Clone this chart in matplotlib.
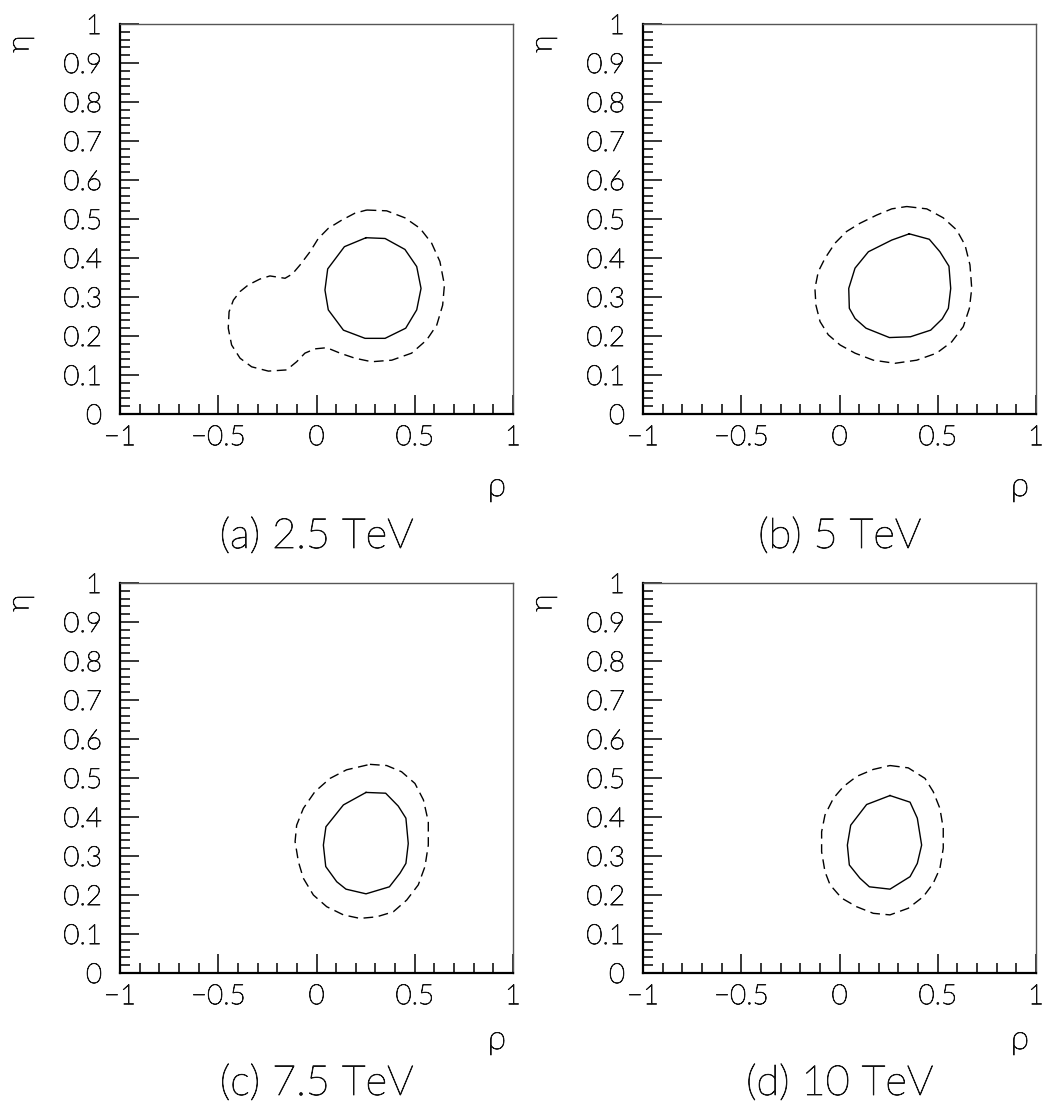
import matplotlib
matplotlib.use('Agg')
import matplotlib.pyplot as plt
import matplotlib.patheffects as pe
from matplotlib.ticker import MultipleLocator, FuncFormatter

plt.rcParams['font.family'] = ['Lato', 'DejaVu Sans']

# ---- contour outlines (rho, eta)
# (a) 2.5 TeV
a_in_rho = [0.252, 0.349, 0.450, 0.510, 0.532, 0.510, 0.454, 0.349, 0.247, 0.137, 0.060, 0.043, 0.057, 0.142]
a_in_eta = [0.452, 0.450, 0.422, 0.378, 0.322, 0.267, 0.220, 0.194, 0.194, 0.215, 0.267, 0.318, 0.372, 0.429]
a_out_rho = [0.255, 0.357, 0.450, 0.527, 0.586, 0.628, 0.651, 0.642, 0.612, 0.561, 0.484, 0.383, 0.281, 0.196,
             0.120, 0.052, -0.008, -0.059, -0.101, -0.152, -0.245, -0.330, -0.389, -0.432, -0.449, -0.445,
             -0.423, -0.389, -0.347, -0.288, -0.237, -0.160, -0.123, -0.084, -0.033, 0.009, 0.060, 0.128, 0.196]
a_out_eta = [0.523, 0.521, 0.503, 0.476, 0.438, 0.391, 0.331, 0.279, 0.228, 0.190, 0.156, 0.138, 0.134, 0.143,
             0.156, 0.170, 0.167, 0.156, 0.134, 0.113, 0.110, 0.121, 0.143, 0.177, 0.220, 0.262,
             0.292, 0.314, 0.331, 0.346, 0.354, 0.348, 0.359, 0.382, 0.416, 0.450, 0.476, 0.497, 0.515]
# (b) 5 TeV
b_in_rho = [0.355, 0.457, 0.511, 0.557, 0.566, 0.554, 0.523, 0.464, 0.361, 0.254, 0.135, 0.079, 0.050, 0.047, 0.079, 0.147, 0.266]
b_in_eta = [0.462, 0.448, 0.416, 0.379, 0.322, 0.271, 0.244, 0.215, 0.198, 0.196, 0.220, 0.245, 0.271, 0.322, 0.374, 0.416, 0.446]
b_out_rho = [0.342, 0.444, 0.528, 0.596, 0.639, 0.664, 0.673, 0.661, 0.630, 0.571, 0.494, 0.393, 0.282, 0.172,
             0.079, 0.003, -0.057, -0.099, -0.120, -0.125, -0.108, -0.074, -0.023, 0.036, 0.104, 0.189, 0.266]
b_out_eta = [0.532, 0.526, 0.503, 0.472, 0.433, 0.382, 0.322, 0.271, 0.224, 0.185, 0.156, 0.138, 0.130, 0.138,
             0.156, 0.177, 0.203, 0.237, 0.279, 0.322, 0.365, 0.399, 0.438, 0.468, 0.489, 0.510, 0.526]
# (c) 7.5 TeV
c_in_rho = [0.252, 0.352, 0.416, 0.455, 0.467, 0.455, 0.425, 0.371, 0.252, 0.150, 0.103, 0.047, 0.035, 0.048, 0.137]
c_in_eta = [0.463, 0.461, 0.428, 0.397, 0.332, 0.281, 0.256, 0.221, 0.203, 0.215, 0.234, 0.273, 0.328, 0.375, 0.431]
c_out_rho = [0.272, 0.357, 0.433, 0.501, 0.544, 0.569, 0.569, 0.552, 0.518, 0.459, 0.391, 0.306, 0.221, 0.137,
             0.052, -0.016, -0.067, -0.092, -0.109, -0.101, -0.067, -0.008, 0.069, 0.153]
c_out_eta = [0.535, 0.532, 0.516, 0.486, 0.444, 0.388, 0.328, 0.273, 0.226, 0.187, 0.157, 0.144, 0.140, 0.149,
             0.170, 0.200, 0.243, 0.285, 0.337, 0.379, 0.422, 0.465, 0.499, 0.521]
# (d) 10 TeV
d_in_rho = [0.257, 0.359, 0.396, 0.418, 0.396, 0.359, 0.257, 0.152, 0.104, 0.050, 0.040, 0.057, 0.138]
d_in_eta = [0.455, 0.438, 0.397, 0.328, 0.281, 0.247, 0.215, 0.221, 0.243, 0.277, 0.328, 0.379, 0.432]
d_out_rho = [0.257, 0.350, 0.435, 0.477, 0.511, 0.528, 0.528, 0.511, 0.477, 0.427, 0.350, 0.257, 0.172, 0.087,
             0.011, -0.048, -0.074, -0.091, -0.091, -0.074, -0.031, 0.020, 0.087, 0.172]
d_out_eta = [0.532, 0.526, 0.499, 0.465, 0.422, 0.371, 0.320, 0.268, 0.230, 0.196, 0.166, 0.149, 0.153, 0.170,
             0.192, 0.226, 0.260, 0.311, 0.362, 0.405, 0.448, 0.478, 0.504, 0.522]

captions = ['(a) 2.5 TeV', '(b) 5 TeV', '(c) 7.5 TeV', '(d) 10 TeV']
panels = [(a_in_rho, a_in_eta, a_out_rho, a_out_eta),
          (b_in_rho, b_in_eta, b_out_rho, b_out_eta),
          (c_in_rho, c_in_eta, c_out_rho, c_out_eta),
          (d_in_rho, d_in_eta, d_out_rho, d_out_eta)]

W, H = 1045, 1103
fig = plt.figure(figsize=(W / 100, H / 100), dpi=100)

# axes boxes in pixels: left, top, right, bottom
boxes = [(120, 24, 513, 414), (643, 24, 1036, 414),
         (120, 583, 513, 973), (643, 583, 1036, 973)]
# offsets below the axis for the rho title and the caption (bottom row is cropped tighter)
rho_off = [73, 73, 67, 67]
cap_off = [123, 123, 111, 111]

# thin text, darkened a little with a stroke
thin = [pe.withStroke(linewidth=0.6, foreground='#111111')]


def fmt(v, pos):
    s = '%g' % round(v, 3)
    return s.replace('-', '\u2212')


for i, (l, t, r, b) in enumerate(boxes):
    ax = fig.add_axes([l / W, 1 - b / H, (r - l) / W, (b - t) / H])
    rin, ein, rout, eout = panels[i]
    ax.plot(rin + rin[:1], ein + ein[:1], color='black', lw=1.0)
    ax.plot(rout + rout[:1], eout + eout[:1], color='black', lw=1.0, dashes=(7, 4))
    ax.set_xlim(-1, 1)
    ax.set_ylim(0, 1)
    ax.xaxis.set_major_locator(MultipleLocator(0.5))
    ax.xaxis.set_minor_locator(MultipleLocator(0.1))
    ax.yaxis.set_major_locator(MultipleLocator(0.1))
    ax.yaxis.set_minor_locator(MultipleLocator(0.02))
    ax.xaxis.set_major_formatter(FuncFormatter(fmt))
    ax.yaxis.set_major_formatter(FuncFormatter(fmt))
    ax.tick_params(which='both', direction='in', top=False, right=False, width=1.1, color='black')
    ax.tick_params(which='major', length=14, labelsize=20, pad=8, labelcolor='#111111')
    ax.tick_params(which='minor', length=7)
    ax.tick_params(axis='y', which='major', pad=13)
    for lab in ax.get_xticklabels() + ax.get_yticklabels():
        lab.set_fontweight('light')
        lab.set_path_effects(thin)
    ax.spines['left'].set_linewidth(1.6)
    ax.spines['bottom'].set_linewidth(1.6)
    ax.spines['top'].set_linewidth(1.0)
    ax.spines['right'].set_linewidth(1.0)
    ax.spines['top'].set_color('#555555')
    ax.spines['right'].set_color('#555555')

    # axis titles
    fig.text((l - 100) / W, 1 - (t + 20) / H, '\u03b7', rotation=90, fontsize=22,
             fontweight='light', ha='center', va='center', color='#111111', path_effects=thin)
    fig.text((r - 16) / W, 1 - (b + rho_off[i]) / H, '\u03c1', fontsize=24,
             fontweight='light', ha='center', va='center', color='#111111', path_effects=thin)
    fig.text((l + r) / 2 / W, 1 - (b + cap_off[i]) / H, captions[i], fontsize=30,
             fontweight='light', ha='center', va='center', color='#111111', path_effects=thin)

fig.savefig('out.png', dpi=100)
